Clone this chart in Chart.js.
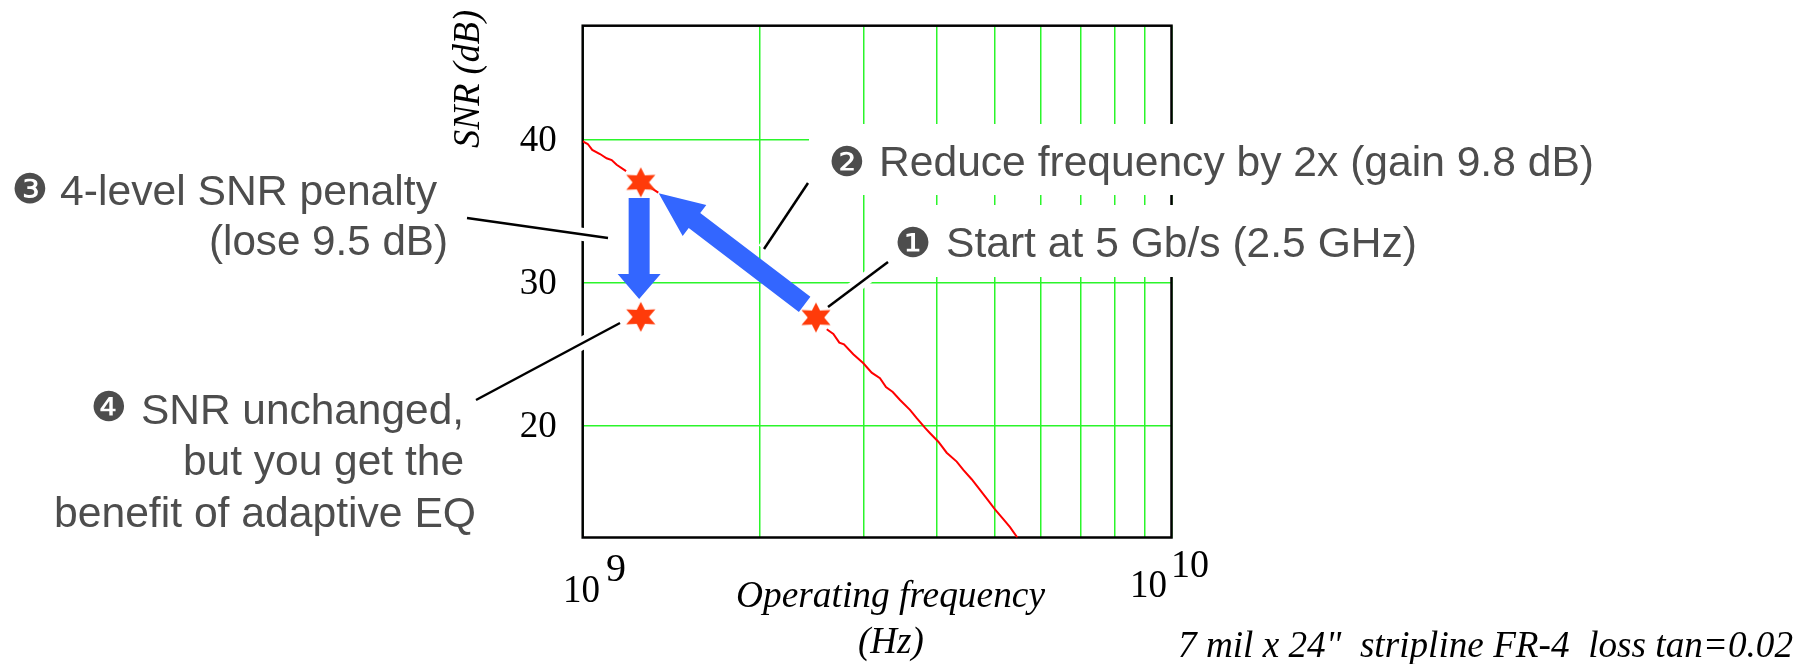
<!DOCTYPE html>
<html>
<head>
<meta charset="utf-8">
<title>SNR vs operating frequency</title>
<style>html,body{margin:0;background:#fff}canvas{display:block}</style>
<script src="https://cdn.jsdelivr.net/npm/chart.js@4/dist/chart.umd.min.js"></script>
</head>
<body>
<canvas id="c" width="1811" height="664"></canvas>
<script>
/* ===== data (GHz, dB). null = break in the curve ===== */
const curveGHz=[1,1.02,1.038,1.07,1.098,1.12,1.142,1.185,null,1.296,1.344,null,2.597,2.665,2.728,2.778,2.881,2.997,3.096,3.198,3.274,3.362,3.459,3.596,3.692,3.815,3.89,4.018,4.151,4.317,4.43,4.577,4.729,4.885,5.014,5.18,5.318,5.472];
const curveSNR=[39.85,39.67,39.26,38.97,38.67,38.55,38.22,37.77,null,36.69,36.27,null,26.73,26.41,25.8,25.68,24.99,24.36,23.7,23.31,22.69,22.35,21.79,21.1,20.52,19.84,19.47,18.88,18.11,17.49,16.91,16.26,15.51,14.76,14.16,13.47,12.91,12.19];
const starGHz=[2.49,1.255,1.255];
const starSNR=[27.55,36.99,27.6];
const arrowFromGHz=[2.382,1.247],arrowFromSNR=[28.47,35.9];
const arrowToGHz=[1.346,1.247],arrowToSNR=[36.23,28.84];
const gridGHz=[1,2,3,4,5,6,7,8,9,10];
const gridSNR=[20,30,40];
const SANS='"Liberation Sans"',SERIF='"Liberation Serif"',GREY='#4d4d4d';

/* six pointed star used as point style */
function makeStar(){
  const s=document.createElement('canvas');s.width=32;s.height=32;
  const c=s.getContext('2d');c.fillStyle='#ff3b0a';c.translate(16,16);c.beginPath();
  for(let i=0;i<12;i++){
    const a=i*Math.PI/6-Math.PI/2,r=i%2?8.2:15,kx=i%2?1:1.12;
    c.lineTo(Math.cos(a)*r*kx,Math.sin(a)*r);
  }
  c.closePath();c.fill();
  return s;
}

/* white knock-outs behind labels and leader lines */
const boxes=[[809,124,800,71],[866,205,570,72]];
const leaders=[[888,262,828,307],[808,183,764,249],[467,218,608,238],[476,400,620,323]];

/* w = width the text has to fill, stretched or squeezed sideways */
function txt(c,s,x,y,font,col,w,align){
  c.save();
  c.font=font;c.fillStyle=col;c.textAlign=align||'left';c.textBaseline='alphabetic';
  c.translate(x,y);
  if(w)c.scale(w/c.measureText(s).width,1);
  c.fillText(s,0,0);
  c.restore();
}
function bullet(c,s,x,y){
  c.font='41px "DejaVu Sans"';c.fillStyle=GREY;c.textAlign='center';c.textBaseline='middle';
  c.fillText(s,x,y);
}
function arrow(c,x0,y0,x1,y1,sw,hw,hl){
  const L=Math.hypot(x1-x0,y1-y0),ux=(x1-x0)/L,uy=(y1-y0)/L,nx=-uy,ny=ux,bx=x1-ux*hl,by=y1-uy*hl;
  c.fillStyle='#3366ff';c.beginPath();
  c.moveTo(x0+nx*sw/2,y0+ny*sw/2);c.lineTo(bx+nx*sw/2,by+ny*sw/2);c.lineTo(bx+nx*hw/2,by+ny*hw/2);
  c.lineTo(x1,y1);
  c.lineTo(bx-nx*hw/2,by-ny*hw/2);c.lineTo(bx-nx*sw/2,by-ny*sw/2);c.lineTo(x0-nx*sw/2,y0-ny*sw/2);
  c.closePath();c.fill();
}

const figure={
  id:'figure',
  beforeDatasetsDraw(ch){
    const c=ch.ctx,a=ch.chartArea;
    c.save();
    c.strokeStyle='#000';c.lineWidth=2.5;c.strokeRect(a.left,a.top,a.right-a.left,a.bottom-a.top);
    c.fillStyle='#fff';boxes.forEach(b=>c.fillRect(b[0],b[1],b[2],b[3]));
    c.strokeStyle='#fff';c.lineWidth=13;
    leaders.forEach(l=>{c.beginPath();c.moveTo(l[0],l[1]);c.lineTo(l[2],l[3]);c.stroke();});
    c.restore();
  },
  afterDatasetsDraw(ch){
    const c=ch.ctx,X=ch.scales.x,Y=ch.scales.y;
    c.save();
    arrow(c,X.getPixelForValue(arrowFromGHz[0]),Y.getPixelForValue(arrowFromSNR[0]),X.getPixelForValue(arrowToGHz[0]),Y.getPixelForValue(arrowToSNR[0]),19,39,45);
    arrow(c,X.getPixelForValue(arrowFromGHz[1]),Y.getPixelForValue(arrowFromSNR[1]),X.getPixelForValue(arrowToGHz[1]),Y.getPixelForValue(arrowToSNR[1]),21,43,25);
    c.strokeStyle='#000';c.lineWidth=2.5;
    leaders.forEach(l=>{c.beginPath();c.moveTo(l[0],l[1]);c.lineTo(l[2],l[3]);c.stroke();});

    const f='43px '+SANS;
    bullet(c,'❷',847,165);txt(c,'Reduce frequency by 2x (gain 9.8 dB)',879,176,f,GREY,715);
    bullet(c,'❶',913,246);txt(c,'Start at 5 Gb/s (2.5 GHz)',946,257,f,GREY,471);
    bullet(c,'❸',30,192);txt(c,'4-level SNR penalty',60,205,f,GREY,377);
    txt(c,'(lose 9.5 dB)',448,255,f,GREY,239,'right');
    bullet(c,'❹',109,410);txt(c,'SNR unchanged,',141,424,f,GREY,323);
    txt(c,'but you get the',464,475,f,GREY,281,'right');
    txt(c,'benefit of adaptive EQ',476,527,f,GREY,422,'right');

    const n='40px '+SERIF,it='italic 37px '+SERIF;
    txt(c,'10',563,602,n,'#000',37);txt(c,'9',606,581,n,'#000');
    txt(c,'10',1130,597,n,'#000',37);txt(c,'10',1171,577,n,'#000',38);
    txt(c,'Operating frequency',736,607,it,'#000',309);
    txt(c,'(Hz)',858,653,it,'#000');
    txt(c,'7 mil x 24"  stripline FR-4  loss tan=0.02',1178,657,it,'#000',615);
    c.translate(479,148);c.rotate(-Math.PI/2);
    txt(c,'SNR (dB)',0,0,it,'#000',138);
    c.restore();
  }
};

new Chart(document.getElementById('c'),{
  type:'scatter',
  data:{datasets:[
    {data:curveGHz.map((x,i)=>({x,y:curveSNR[i]})),showLine:true,spanGaps:false,borderColor:'#f00',borderWidth:2,pointRadius:0,order:2},
    {data:starGHz.map((x,i)=>({x,y:starSNR[i]})),showLine:false,pointStyle:makeStar(),order:1}
  ]},
  options:{
    responsive:false,animation:false,
    layout:{padding:{top:25.7,right:639.5,left:0,bottom:0}},
    plugins:{legend:{display:false},tooltip:{enabled:false}},
    scales:{
      x:{type:'logarithmic',min:1,max:10,
        afterBuildTicks:s=>{s.ticks=gridGHz.map(value=>({value}));},
        afterFit:s=>{s.height=126.5;s.paddingLeft=0;s.paddingRight=0;},
        ticks:{display:false},
        border:{display:false},
        grid:{color:'#2bf52b',lineWidth:1.5,drawTicks:false}},
      y:{type:'linear',min:12.19,max:47.93,
        afterBuildTicks:s=>{s.ticks=gridSNR.map(value=>({value}));},
        afterFit:s=>{s.width=582.7;s.paddingTop=0;s.paddingBottom=0;},
        ticks:{color:'#000',padding:26,labelOffset:2,font:{family:'Liberation Serif',size:37}},
        border:{display:false},
        grid:{color:'#2bf52b',lineWidth:1.5,tickLength:0}}
    }
  },
  plugins:[figure]
});
</script>
</body>
</html>
